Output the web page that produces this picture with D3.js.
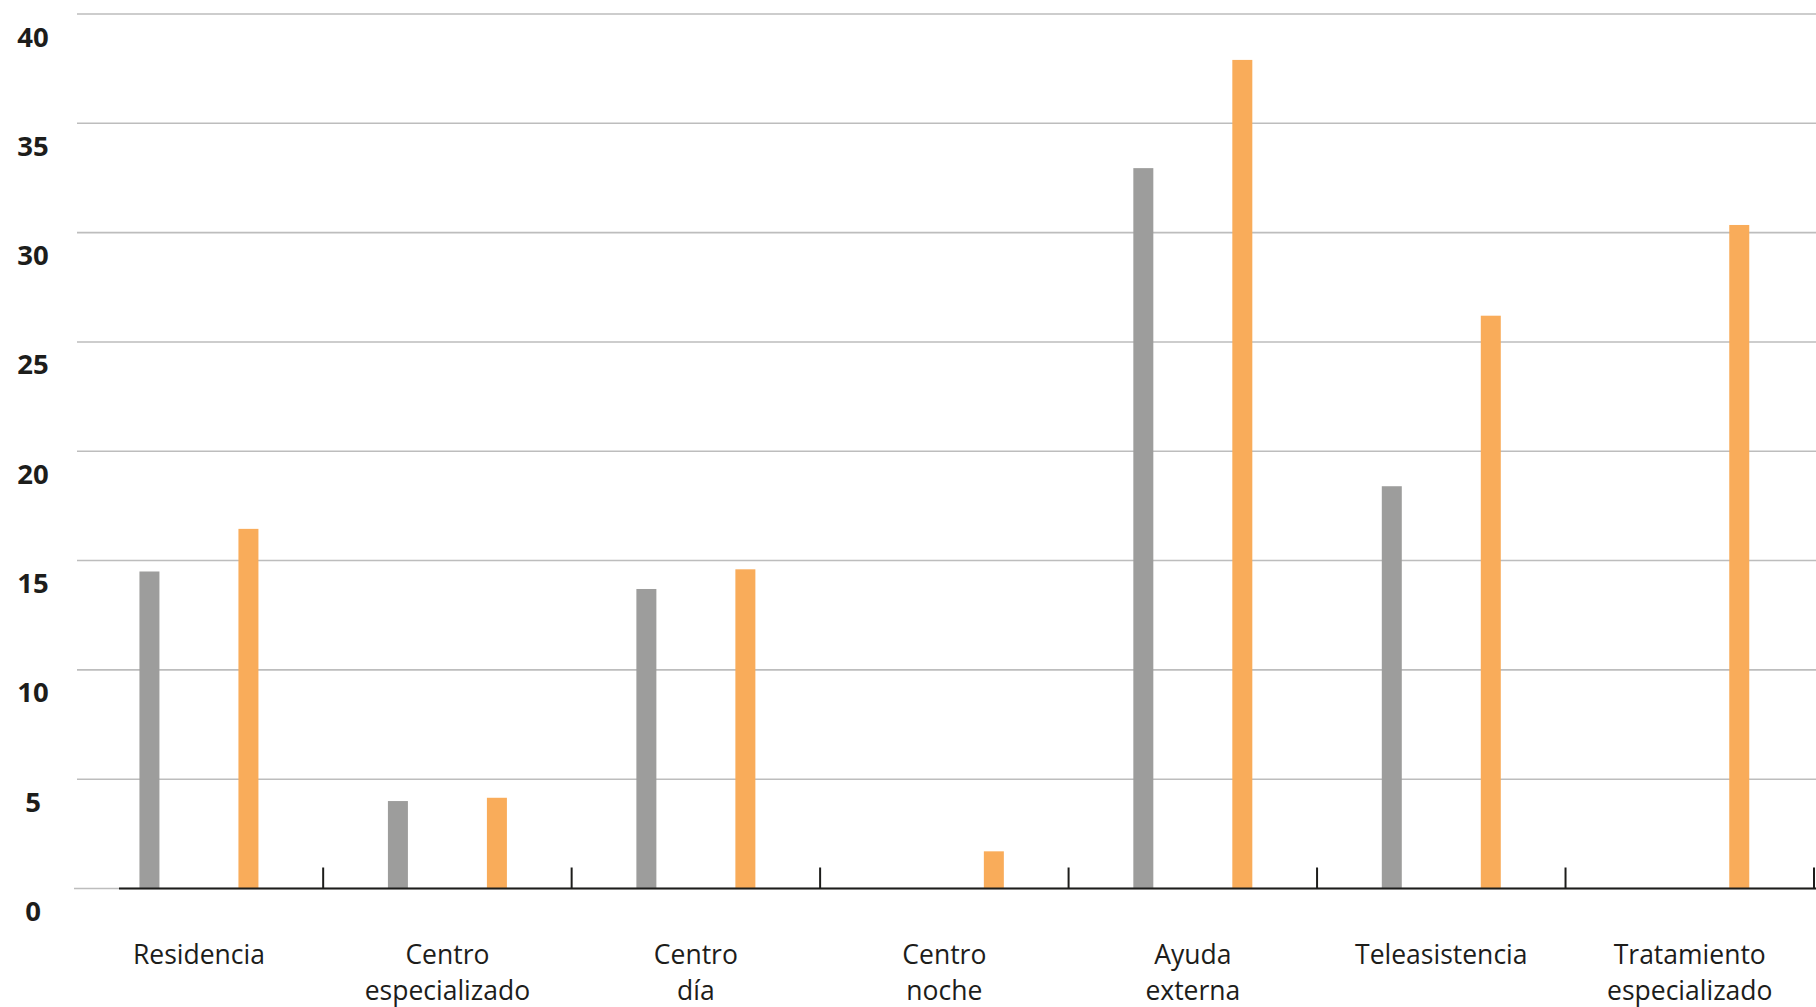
<!DOCTYPE html>
<html><head><meta charset="utf-8">
<script src="https://cdn.jsdelivr.net/npm/d3@7"></script>
<style>body{margin:0;background:#fff;}svg{display:block;}</style>
</head><body>
<svg id="c" width="1816" height="1007"></svg>
<script>
const categories = [["Residencia"],["Centro","especializado"],["Centro","día"],["Centro","noche"],["Ayuda","externa"],["Teleasistencia"],["Tratamiento","especializado"]];
const categoryKeys = categories.map(c => c.join(" "));
const seriesNames = ["Serie gris","Serie naranja"];
const grayValues = [14.5, 4.0, 13.7, 0, 32.95, 18.4, 0];
const orangeValues = [16.45, 4.15, 14.6, 1.7, 37.9, 26.2, 30.35];
const yTicks = [0,5,10,15,20,25,30,35,40];
const colors = ["#9d9d9c", "#f9ac5a"];

const svg = d3.select("#c");
const y = d3.scaleLinear().domain([0,40]).range([888.5, 14]);
const x = d3.scaleBand().domain(categoryKeys).range([74.7, 1814]).paddingInner(0).paddingOuter(0);
const xi = d3.scaleBand().domain(seriesNames).range([0, x.bandwidth()]).paddingInner(0.798).paddingOuter(0.654);

// gridlines
svg.append("g").selectAll("line").data(yTicks).join("line")
  .attr("x1", d => d===0 ? 74 : 77).attr("x2", 1816)
  .attr("y1", d => y(d)).attr("y2", d => y(d))
  .attr("stroke", "#bdbdbd").attr("stroke-width", 1.6);

// y labels
svg.append("g").selectAll("text").data(yTicks).join("text")
  .attr("x", 33).attr("y", d => y(d) + 22)
  .attr("text-anchor", "middle").attr("dominant-baseline", "central")
  .attr("font-family", "'Open Sans', sans-serif").attr("font-weight", 700)
  .attr("font-size", 27.5).attr("fill", "#1d1d1b")
  .text(d => d);

// bars
const data = categoryKeys.map((k,i) => [ {k, s: seriesNames[0], v: grayValues[i], c: colors[0]}, {k, s: seriesNames[1], v: orangeValues[i], c: colors[1]} ]).flat().filter(d => d.v > 0);
svg.append("g").selectAll("rect").data(data).join("rect")
  .attr("x", d => x(d.k) + xi(d.s)).attr("width", xi.bandwidth())
  .attr("y", d => y(d.v)).attr("height", d => y(0) - y(d.v))
  .attr("fill", d => d.c);

// axis line
svg.append("line").attr("x1", 119).attr("x2", 1816).attr("y1", y(0)).attr("y2", y(0))
  .attr("stroke", "#1d1d1b").attr("stroke-width", 2);

// ticks at band boundaries
svg.append("g").selectAll("line").data(categoryKeys).join("line")
  .attr("x1", d => x(d) + x.bandwidth()).attr("x2", d => x(d) + x.bandwidth())
  .attr("y1", y(0)).attr("y2", y(0) - 21)
  .attr("stroke", "#1d1d1b").attr("stroke-width", 2);

// category labels
const lab = svg.append("g").selectAll("text").data(categories).join("text")
  .attr("text-anchor", "middle")
  .attr("font-family", "'Open Sans', sans-serif").attr("font-size", 26.5).attr("fill", "#1d1d1b");
lab.each(function(d,i){
  const cx = x(categoryKeys[i]) + x.bandwidth()/2;
  d3.select(this).selectAll("tspan").data(d).join("tspan")
    .attr("x", cx).attr("y", (t,j) => 964 + j*36).text(t => t);
});
</script>
</body></html>
